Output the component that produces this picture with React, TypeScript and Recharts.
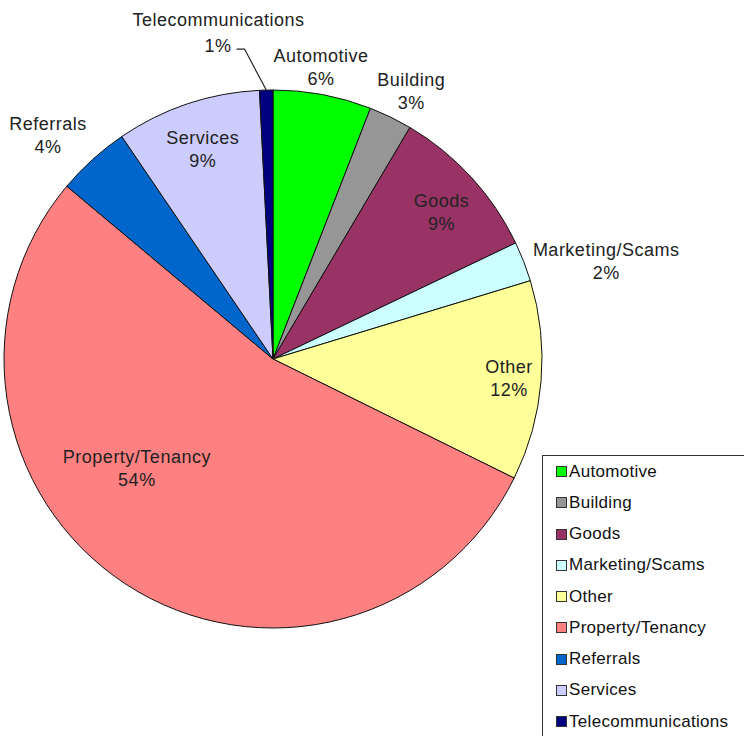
import React from 'react';
import { PieChart, Pie, Cell, Legend } from 'recharts';

// complaint categories, clockwise from 12 o'clock
const categories = [
  'Automotive',
  'Building',
  'Goods',
  'Marketing/Scams',
  'Other',
  'Property/Tenancy',
  'Referrals',
  'Services',
  'Telecommunications',
];
const shares = [5.9, 2.6, 9.4, 2.4, 12.0, 53.8, 4.4, 8.7, 0.8];
const percentLabels = ['6%', '3%', '9%', '2%', '12%', '54%', '4%', '9%', '1%'];
const colors = ['#00ff00', '#969696', '#993366', '#ccffff', '#ffff99', '#ff8080', '#0066cc', '#ccccff', '#000080'];

const data = categories.map((name, i) => ({ name, value: shares[i], pct: percentLabels[i] }));

// label placement: radius factor and angle nudge (deg) per slice
const labelLayout: Record<string, { r: number; da: number }> = {
  Automotive: { r: 1.1, da: 1.3 },
  Building: { r: 1.12, da: -1.4 },
  Goods: { r: 0.83, da: -1.5 },
  'Marketing/Scams': { r: 1.29, da: -5 },
  Other: { r: 0.88, da: 0 },
  'Property/Tenancy': { r: 0.65, da: -18 },
  Referrals: { r: 1.18, da: 3 },
  Services: { r: 0.82, da: 0 },
  Telecommunications: { r: 1.157, da: 3.8 },
};

const RAD = Math.PI / 180;
const FONT = '"Liberation Sans", Arial, sans-serif';

const polar = (cx: number, cy: number, r: number, deg: number) => ({
  x: cx + r * Math.cos(-deg * RAD),
  y: cy + r * Math.sin(-deg * RAD),
});

function SliceLabel(props: any) {
  const { cx, cy, midAngle, outerRadius, index } = props;
  const d = data[index];
  const lay = labelLayout[d.name];
  const textStyle = { fontFamily: FONT, fontSize: 18, fill: '#222', letterSpacing: 0.5 };

  if (d.name === 'Telecommunications') {
    const start = polar(cx, cy, outerRadius, midAngle);
    const elbow = polar(cx, cy, outerRadius * lay.r, midAngle + lay.da);
    return (
      <g>
        <polyline
          points={`${start.x},${start.y} ${elbow.x},${elbow.y} ${elbow.x - 8},${elbow.y}`}
          fill="none"
          stroke="#222"
          strokeWidth={1.2}
        />
        <text x={elbow.x - 13} y={elbow.y - 3} textAnchor="end" dominantBaseline="central" style={textStyle}>
          {d.pct}
        </text>
        <text x={elbow.x - 26} y={elbow.y - 29} textAnchor="middle" dominantBaseline="central" style={textStyle}>
          {d.name}
        </text>
      </g>
    );
  }

  const p = polar(cx, cy, outerRadius * lay.r, midAngle + lay.da);
  return (
    <text x={p.x} y={p.y} textAnchor="middle" style={textStyle}>
      <tspan x={p.x} y={p.y - 11.5} dominantBaseline="central">{d.name}</tspan>
      <tspan x={p.x} y={p.y + 11.5} dominantBaseline="central">{d.pct}</tspan>
    </text>
  );
}

function LegendBox() {
  return (
    <div
      style={{
        border: '1.5px solid #333',
        background: '#fff',
        width: 220,
        height: 300,
        boxSizing: 'border-box',
        paddingTop: 0,
        paddingLeft: 13,
      }}
    >
      {categories.map((name, i) => (
        <div key={name} style={{ display: 'flex', alignItems: 'center', height: 31.25 }}>
          <span
            style={{
              display: 'inline-block',
              width: 9,
              height: 9,
              background: colors[i],
              border: '1px solid #333',
              marginRight: 2,
            }}
          />
          <span style={{ fontFamily: FONT, fontSize: 17, color: '#111', letterSpacing: 0.3 }}>{name}</span>
        </div>
      ))}
    </div>
  );
}

export default function App() {
  return (
    <div style={{ position: 'absolute', left: 0, top: 0, background: '#fff' }}>
      <PieChart width={744} height={736} margin={{ top: 0, right: 0, bottom: 0, left: 0 }}>
        <Pie
          data={data}
          dataKey="value"
          nameKey="name"
          cx={273}
          cy={359}
          outerRadius={269}
          startAngle={90}
          endAngle={-270}
          stroke="#111"
          strokeWidth={1}
          label={SliceLabel}
          labelLine={false}
          isAnimationActive={false}
        >
          {data.map((d, i) => (
            <Cell key={d.name} fill={colors[i]} />
          ))}
        </Pie>
        <Legend
          layout="vertical"
          content={() => <LegendBox />}
          wrapperStyle={{ position: 'absolute', left: 542, top: 455, width: 220 }}
        />
      </PieChart>
    </div>
  );
}
